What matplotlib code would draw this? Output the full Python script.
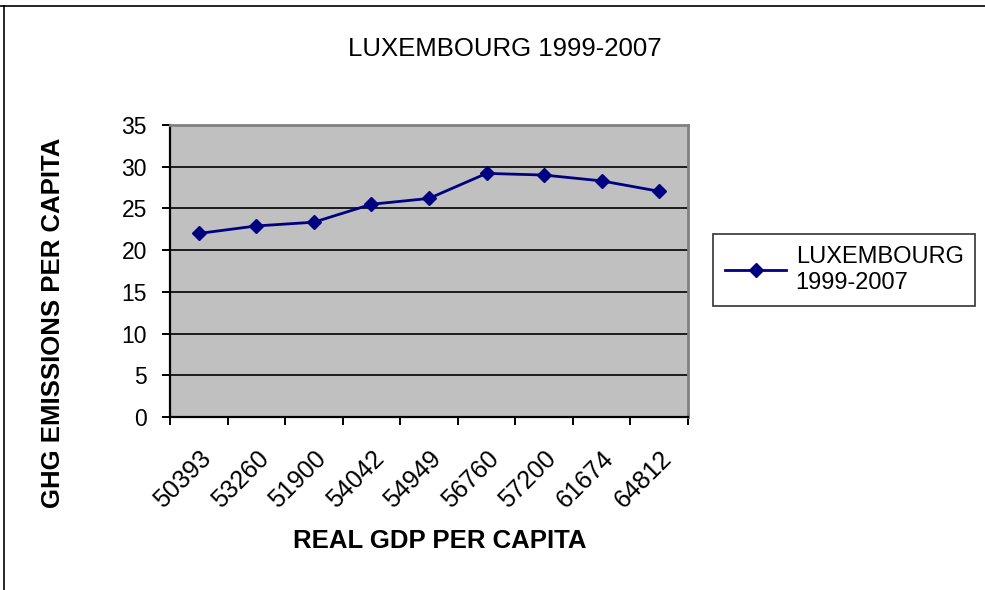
import matplotlib
matplotlib.use("Agg")
import matplotlib.pyplot as plt
from matplotlib.lines import Line2D
from matplotlib.transforms import ScaledTranslation
import numpy as np

gdp_labels = ["50393", "53260", "51900", "54042", "54949", "56760", "57200", "61674", "64812"]
ghg_values = [22.0, 22.9, 23.35, 25.5, 26.2, 29.2, 29.0, 28.3, 27.05]
series_name = "LUXEMBOURG\n1999-2007"
title = "LUXEMBOURG 1999-2007"
x_title = "REAL GDP PER CAPITA"
y_title = "GHG EMISSIONS PER CAPITA"
y_ticks = [0, 5, 10, 15, 20, 25, 30, 35]

plt.rcParams['font.family'] = ['Liberation Sans', 'DejaVu Sans']

fig = plt.figure(figsize=(9.85, 5.9), dpi=100)
ax = fig.add_axes([170/985, 1 - 417/590, 518/985, 292/590])
ax.set_facecolor('#C0C0C0')

x = np.arange(len(gdp_labels))
ax.plot(x, ghg_values, color='#000080', linewidth=2, marker='D', markersize=7.5,
        label=series_name, zorder=3)

ax.set_xlim(-0.5, len(gdp_labels) - 0.5)
ax.set_ylim(0, 35)
ax.set_yticks(y_ticks)
ax.set_yticklabels([str(v) for v in y_ticks], fontsize=16.5)
ax.yaxis.grid(True, color='black', linewidth=1.2)
ax.set_axisbelow(True)

ax.set_xticks(x)
ax.set_xticklabels(gdp_labels, rotation=45, ha='right', rotation_mode='anchor', fontsize=18)
shift = ScaledTranslation(-5/100, 0, fig.dpi_scale_trans)
for lbl in ax.get_xticklabels():
    lbl.set_transform(lbl.get_transform() + shift)
ax.set_xticks(np.arange(-0.5, len(gdp_labels)), minor=True)
ax.tick_params(axis='x', which='major', length=0, pad=21)
ax.tick_params(axis='x', which='minor', length=6, width=1.4, direction='out', color='black')
ax.tick_params(axis='y', length=5.5, width=1.4, direction='out', pad=11)

for s in ['top', 'right']:
    ax.spines[s].set_color('#808080')
    ax.spines[s].set_linewidth(2)
for s in ['left', 'bottom']:
    ax.spines[s].set_color('black')
    ax.spines[s].set_linewidth(1.6)

fig.text(440/985, 1 - 541/590, x_title, fontsize=18.5, fontweight='bold', ha='center', va='center')
fig.text(53/985, 1 - 323/590, y_title, fontsize=18.5, fontweight='bold', ha='center', va='center',
         rotation=90)
fig.text(505/985, 1 - 49/590, title, fontsize=18.5, ha='center', va='center')

leg = fig.legend(loc='center left', bbox_to_anchor=(713/985, 1 - 270/590), fontsize=17,
                 frameon=True, fancybox=False, shadow=False, handlelength=2.6,
                 handletextpad=0.4, borderpad=0.5, borderaxespad=0, labelspacing=0.2)
leg.get_frame().set_edgecolor('black')
leg.get_frame().set_linewidth(1.2)

fig.add_artist(Line2D([0, 1], [1 - 6/590, 1 - 6/590], color='black', linewidth=1.2))
fig.add_artist(Line2D([4/985, 4/985], [0, 1 - 6/590], color='black', linewidth=1.2))

fig.savefig("out.png", dpi=100, facecolor='white')
